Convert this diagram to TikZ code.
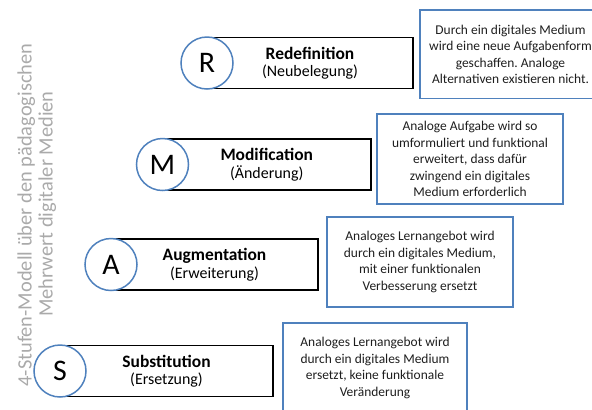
\documentclass[tikz,border=0pt]{standalone}
\usepackage{fontspec}
\setmainfont{Carlito}
\frenchspacing
\definecolor{obl}{RGB}{79,129,189}
\definecolor{vg}{RGB}{170,170,170}
\definecolor{txt}{RGB}{30,30,30}
\begin{document}
\begin{tikzpicture}[x=1bp,y=-1bp,
 bar/.style={draw=black, line width=1.6bp, minimum height=51bp, inner sep=0pt},
 letter/.style={circle, draw=obl, line width=1.5bp, fill=white, minimum size=52bp, inner sep=0pt, font=\fontsize{30}{32}\selectfont},
 ttl/.style={font=\fontsize{17.5}{20}\selectfont\bfseries, inner sep=0pt, anchor=base},
 sub/.style={font=\fontsize{16}{19}\selectfont, inner sep=0pt, anchor=base},
 descbox/.style={draw=obl, line width=1.5bp, inner sep=0pt},
 desc/.style={align=center, text=txt, font=\fontsize{13.5}{16.5}\selectfont, inner sep=0pt},
 side/.style={rotate=90, anchor=base, text=vg, font=\fontsize{20.5}{22}\selectfont, inner sep=0pt}]
\useasboundingbox (0,0) rectangle (592,409);

% side label
\node[side] (side1) at (31.5,215) {4-Stufen-Modell über den pädagogischen};
\node[side] (side2) at (52.5,204) {Mehrwert digitaler Medien};

% R row
\node[bar, minimum width=206bp] (barR) at (310,63) {};
\node[letter] (cR) at (207,63) {R};
\node[ttl] (tR) at (310,59.5) {Redefinition};
\node[sub] (sR) at (310,76.5) {(Neubelegung)};
\node[descbox, minimum width=187bp, minimum height=88.5bp] (bR) at (513.5,54.25) {};
\node[desc] (dR) at ([xshift=-3bp]bR.center)
 {Durch ein digitales Medium\\wird eine neue Aufgabenform\\geschaffen. Analoge\\Alternativen existieren nicht.};

% M row
\node[bar, minimum width=208.5bp] (barM) at (266.75,164.5) {};
\node[letter] (cM) at (162.5,164.5) {M};
\node[ttl] (tM) at (266.75,160.5) {Modification};
\node[sub] (sM) at (266.75,178) {(Änderung)};
\node[descbox, minimum width=186bp, minimum height=90bp] (bM) at (470,159) {};
\node[desc] (dM) at (bM.center)
 {Analoge Aufgabe wird so\\umformuliert und funktional\\erweitert, dass dafür\\zwingend ein digitales\\Medium erforderlich};

% A row
\node[bar, minimum width=207bp] (barA) at (214.5,264.5) {};
\node[letter] (cA) at (111,264.5) {A};
\node[ttl] (tA) at (214.5,260.5) {Augmentation};
\node[sub] (sA) at (214.5,278) {(Erweiterung)};
\node[descbox, minimum width=186bp, minimum height=90bp] (bA) at (420,262) {};
\node[desc] (dA) at (bA.center)
 {Analoges Lernangebot wird\\durch ein digitales Medium,\\mit einer funktionalen\\Verbesserung ersetzt};

% S row
\node[bar, minimum width=213bp] (barS) at (166.5,371) {};
\node[letter] (cS) at (60,371) {S};
\node[ttl] (tS) at (166.5,367) {Substitution};
\node[sub] (sS) at (166.5,384.5) {(Ersetzung)};
\node[descbox, minimum width=184bp, minimum height=90bp] (bS) at (375,368) {};
\node[desc] (dS) at (bS.center)
 {Analoges Lernangebot wird\\durch ein digitales Medium\\ersetzt, keine funktionale\\Veränderung};
\end{tikzpicture}
\end{document}
